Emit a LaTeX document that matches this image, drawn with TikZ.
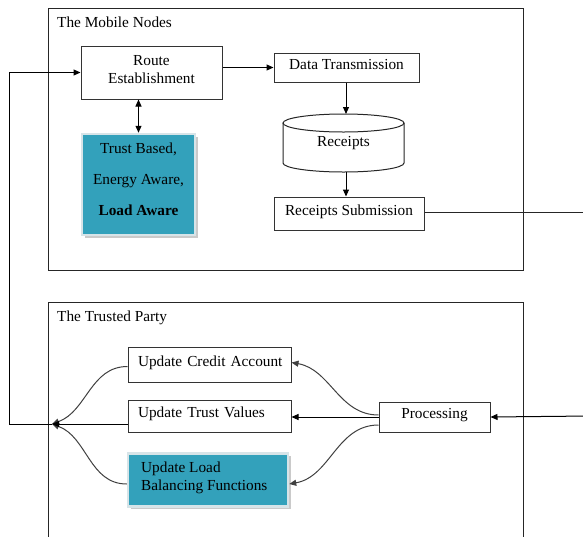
\documentclass[tikz,border=0pt]{standalone}
\usepackage{fontspec}
\setmainfont{Liberation Serif}
\usetikzlibrary{arrows.meta,calc,shadows}
\definecolor{tealfill}{RGB}{51,161,187}
\definecolor{tealedge}{RGB}{215,228,232}
\tikzset{
  box/.style={draw=black!80, line width=1pt, fill=white, inner sep=0pt, align=center},
  oneline/.style={text height=10.5pt, text depth=7.5pt},
  tealbox/.style={draw=tealedge, line width=2.5pt, fill=tealfill, inner sep=0pt,
     drop shadow={shadow xshift=2.5pt, shadow yshift=-2.5pt, fill=black!35, opacity=0.6}},
  frame/.style={draw=black!85, line width=1pt},
  conn/.style={draw=black, line width=1pt, -{Triangle[length=7pt,width=6pt]}},
  curv/.style={draw=black!75, line width=1pt, -{Triangle[length=7pt,width=6pt]}},
  lbl/.style={anchor=west, inner sep=0pt}
}
\begin{document}
\begin{tikzpicture}[x=1pt,y=-1pt,font=\fontsize{15.3}{19}\selectfont]
\useasboundingbox (0,0) rectangle (583,536);
\clip (0,0) rectangle (583,536);
% frames
\draw[frame] (48,8) rectangle (523,270);
\draw[frame] (48,545) -- (48,302) -- (523,302) -- (523,545);
\node[lbl] (mn) at (57,22) {The Mobile Nodes};
\node[lbl] (tp) at (57,318) {The Trusted Party};
% mobile nodes
\node[box, minimum width=141, minimum height=53] (route) at (151.5,72.5) {};
\node[align=center, inner sep=0pt] (routetxt) at (151.5,69.5) {Route\\[-1pt]Establishment};
\node[box, oneline, minimum width=145, minimum height=29] (dt) at (346.5,67.5) {Data Transmission};
\node[inner sep=0pt, minimum width=121, minimum height=58] (rec) at (343.5,143) {};
\draw[frame, fill=white] (283,123) -- (283,163) arc[start angle=180, end angle=360, x radius=60.5, y radius=-9] -- (404,123);
\draw[frame, fill=white] (343.5,123) ellipse [x radius=60.5, y radius=9];
\node (rectxt) at (343.5,143) {Receipts};
\node[box, oneline, minimum width=150, minimum height=33] (rs) at (349,213.5) {Receipts Submission};
\node[tealbox, minimum width=113, minimum height=101] (teal) at (138.5,184.5) {};
\node[align=center, inner sep=0pt] (tealtxt) at (138.5,179) 
  {Trust Based,\\[12pt]Energy Aware,\\[12pt]\textbf{Load Aware}};
\coordinate (e1) at (590,212);
\coordinate (e2) at (590,416);
% trusted party
\node[box, oneline, minimum width=163, minimum height=35, text width=143, inner xsep=10pt, align=left] (uca) at (209.5,364.5) {\mbox{Update Credit Account}};
\node[box, oneline, minimum width=163, minimum height=32, text width=143, inner xsep=10pt, align=left] (utv) at (209.5,416) {\mbox{Update Trust Values}};
\node[tealbox, minimum width=160, minimum height=53] (ulb) at (208,480) {};
\node[align=left, inner sep=0pt, anchor=west] (ulbtxt) at (141,478) {Update Load\\[-1pt]Balancing Functions};
\node[box, oneline, minimum width=111, minimum height=30] (proc) at (434.5,417) {Processing};
\coordinate (conv) at (52,424);
\coordinate (fb) at (9,424);
% connectors
\draw[conn] (route.east |- dt.west) -- (dt.west);
\draw[conn, {Triangle[length=7pt,width=6pt]}-{Triangle[length=7pt,width=6pt]}] (teal.north |- route.south) -- (teal.north);
\draw[conn] (dt.south -| 346,0) -- (346,114);
\draw[conn] (346,172) -- (rs.north -| 346,0);
\draw[frame] (rs.east |- 0,212) -- (e1);
\draw[conn] (e2) -- (proc.east);
\draw[conn] (proc.west) -- (utv.east |- proc.west);
\draw[curv] ($(proc.west)+(0,-2)$) to[out=180,in=-10] ($(uca.east)+(0,-2)$);
\draw[curv] ($(proc.west)+(0,8)$) to[out=180,in=10] ($(ulb.east)+(0,4)$);
\draw[curv] ($(uca.west)+(0,2)$) to[out=180,in=20] (conv);
\draw[curv] ($(ulb.west)+(0,4)$) to[out=180,in=-20] (conv);
\draw[conn] ($(utv.west)+(0,8)$) -- (conv);
\draw[conn] (conv) -- (fb) |- (route.west);
\end{tikzpicture}
\end{document}
